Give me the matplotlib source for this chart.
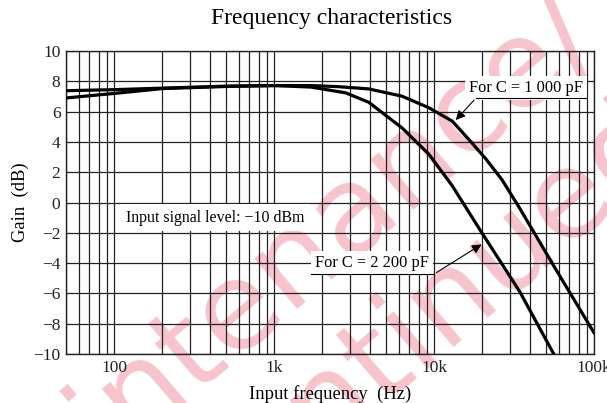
import matplotlib.pyplot as plt
from matplotlib.ticker import FixedLocator, NullFormatter

plt.rcParams['font.family'] = ['Liberation Serif', 'DejaVu Serif']

# ------------------------------
# values
# ------------------------------
freq_1000 = [50, 100, 200, 500, 1000, 1700, 2500, 3900, 6300, 9300, 13000, 16500,
             21000, 26600, 34400, 57600, 100000]
gain_1000 = [7.38, 7.45, 7.55, 7.68, 7.72, 7.72, 7.65, 7.5, 7.02, 6.25, 5.37, 4.16,
             2.9, 1.5, -0.4, -4.4, -8.6]

freq_2200 = [50, 100, 200, 500, 1000, 1700, 2800, 3900, 6300, 9300, 13000, 19900,
             34400, 56000]
gain_2200 = [6.9, 7.2, 7.52, 7.66, 7.72, 7.62, 7.24, 6.62, 4.93, 3.18, 1.1, -2.0,
             -5.9, -10.0]

x_major = [100, 1000, 10000, 100000]
x_labels = ['100', '1k', '10k', '100k']
y_ticks = list(range(-10, 11, 2))

fig = plt.figure(figsize=(6.07, 4.03), dpi=100)
ax = fig.add_axes([0.1087, 0.1216, 0.8699, 0.7518])
ax.set_facecolor('none')

# pink watermark behind the chart
wm = dict(fontsize=88, color='#f7c4cd', rotation=40.5, rotation_mode='anchor',
          ha='right', va='center', zorder=-1, family='DejaVu Sans')
fig.text(0.955, 0.965, 'Maintenance/', **wm)
fig.text(1.08, 0.70, 'Discontinued', **wm)

ax.plot(freq_1000, gain_1000, color='black', lw=2.3, zorder=3)
ax.plot(freq_2200, gain_2200, color='black', lw=2.3, zorder=3)

ax.set_xscale('log')
ax.set_xlim(50, 100000)
ax.set_ylim(-10, 10)
ax.xaxis.set_major_locator(FixedLocator(x_major))
ax.set_xticklabels(x_labels)
ax.xaxis.set_minor_locator(FixedLocator([m * d for d in [10, 100, 1000, 10000] for m in range(2, 10)]))
ax.xaxis.set_minor_formatter(NullFormatter())
ax.set_yticks(y_ticks)
ax.tick_params(which='both', length=0, labelsize=12.5, colors='#222222', pad=4)
ax.grid(which='both', axis='x', color='#222222', lw=0.9)
ax.grid(which='major', axis='y', color='#222222', lw=0.9)
for s in ax.spines.values():
    s.set_color('#222222')
    s.set_linewidth(1.0)

ax.set_xlabel('Input frequency  (Hz)', fontsize=13.4, labelpad=7)
ax.set_ylabel('Gain  (dB)', fontsize=13.4, labelpad=3)
fig.text(0.547, 0.955, 'Frequency characteristics', fontsize=17, ha='center', va='center')

ax.text(428, -1.0, 'Input signal level: \u221210 dBm', fontsize=11.4, ha='center', va='center',
        bbox=dict(facecolor='white', edgecolor='none', pad=4), zorder=4)

# annotation for 1000 pF
ax.text(37600, 7.56, 'For C = 1 000 pF', fontsize=11.8, ha='center', va='center',
        bbox=dict(facecolor='white', edgecolor='none', pad=3), zorder=4)
ax.plot([18300, 90400], [6.9, 6.9], color='black', lw=0.8, zorder=4)
ax.annotate('', xy=(13300, 5.31), xytext=(18300, 6.9),
            arrowprops=dict(arrowstyle='-|>', color='black', lw=0.8, mutation_scale=14), zorder=5)

# annotation for 2200 pF
ax.text(4100, -4.0, 'For C = 2 200 pF', fontsize=11.8, ha='center', va='center',
        bbox=dict(facecolor='white', edgecolor='none', pad=3), zorder=4)
ax.plot([1700, 10000], [-4.72, -4.72], color='black', lw=0.8, zorder=4)
ax.annotate('', xy=(20500, -2.67), xytext=(10000, -4.72),
            arrowprops=dict(arrowstyle='-|>', color='black', lw=0.8, mutation_scale=14), zorder=5)

fig.savefig('out.png', dpi=100)
